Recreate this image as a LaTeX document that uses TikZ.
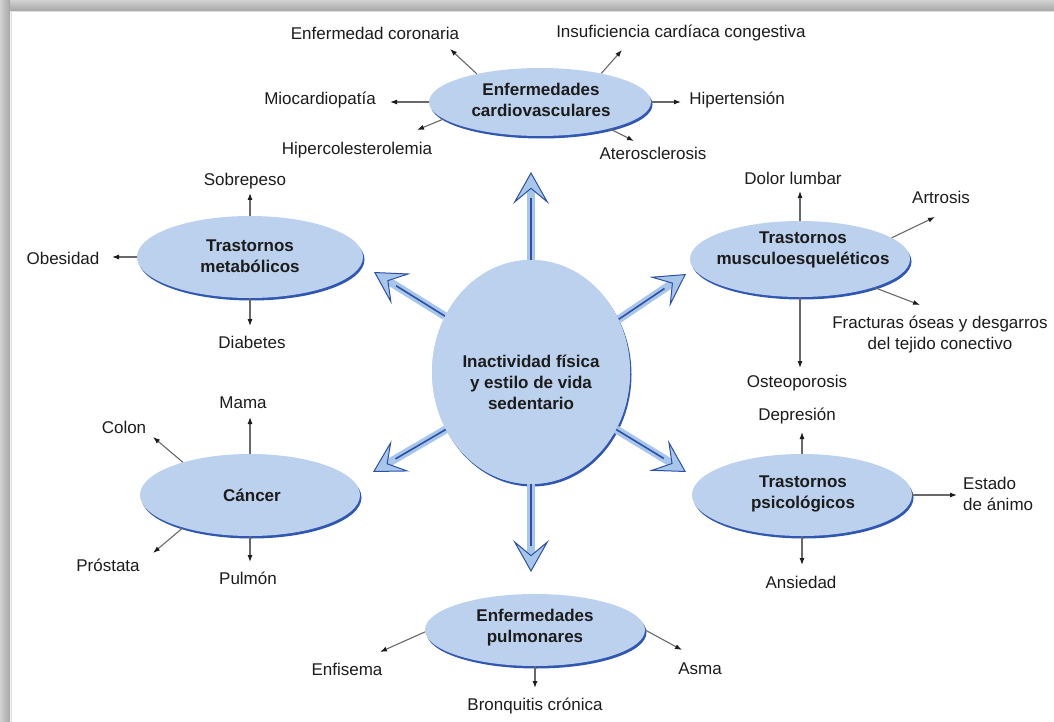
\documentclass[tikz,border=0pt]{standalone}
\usepackage{fontspec}
\setmainfont{Liberation Sans}
\usetikzlibrary{shapes.geometric,arrows.meta,shadows}
\definecolor{ellfill}{RGB}{188,209,237}
\definecolor{ellshadow}{RGB}{48,88,178}
\definecolor{arrlight}{RGB}{168,198,234}
\definecolor{arrdark}{RGB}{44,80,168}
\definecolor{txt}{RGB}{28,28,28}
\definecolor{smline}{RGB}{105,105,105}
\begin{document}
\begin{tikzpicture}[x=1pt,y=-1pt,
 lbl/.style={font=\fontsize{17}{21}\selectfont, text=txt, inner sep=0pt, align=center},
 cat/.style={ellipse, fill=ellfill, inner sep=0pt, drop shadow={shadow xshift=1.5pt, shadow yshift=-2.5pt, fill=ellshadow, opacity=1}},
 cattxt/.style={font=\fontsize{17}{21}\selectfont\bfseries, text=txt, inner sep=0pt, align=center},
 sm/.style={draw=smline, line width=1.1pt, -{Latex[length=7pt,width=5pt,color=txt]}},
 bigA/.style={line width=8pt, arrlight, -{Stealth[length=32pt,width=36pt,inset=15pt,line width=1pt,fill=arrlight,color=arrdark]}},
 bigL/.style={line width=1.6pt, arrdark, shorten >=26pt},
]
\useasboundingbox (0,0) rectangle (1054,722);
\fill[white] (0,0) rectangle (1054,722);
% frame
\shade[top color=gray!35, bottom color=gray!70] (0,0) rectangle (1054,11);
\shade[left color=gray!35, right color=gray!70] (0,0) rectangle (10,722);
\draw[gray!25, line width=1pt] (11,12) -- (1054,12);
\draw[gray!25, line width=1pt] (11,12) -- (11,722);

% central node
\node[ellipse, fill=ellfill, inner sep=0pt, minimum width=198pt, minimum height=224pt,
  drop shadow={shadow xshift=1.5pt, shadow yshift=-2.5pt, fill=ellshadow, opacity=1}] (ctr) at (531,372) {};
% big arrow tips
\coordinate (tU) at (531,172);
\coordinate (tD) at (531,572);
\coordinate (tUL) at (374,272);
\coordinate (tUR) at (686,274);
\coordinate (tLL) at (373,472);
\coordinate (tLR) at (686,472);
\foreach \a/\t in {90/tU,270/tD,147/tUL,31/tUR,214/tLL,326/tLR}{
  \draw[bigA] (ctr.\a) -- (\t);
  \draw[bigL] (ctr.\a) -- (\t);
}
\node[ellipse, fill=ellfill, inner sep=0pt, minimum width=198pt, minimum height=224pt] (ctrtop) at (ctr) {};
\node[cattxt] (ctrT) at (531,382) {Inactividad física\\y estilo de vida\\sedentario};

% category ellipses
\node[cat, minimum width=222pt, minimum height=68pt] (cv) at (540,102) {};
\node[cat, minimum width=226pt, minimum height=82pt] (met) at (250,257) {};
\node[cat, minimum width=220pt, minimum height=76pt] (mus) at (800,259) {};
\node[cat, minimum width=220pt, minimum height=82pt] (can) at (250,495) {};
\node[cat, minimum width=220pt, minimum height=82pt] (psi) at (802,495) {};
\node[cat, minimum width=220pt, minimum height=72pt] (pul) at (535,630) {};

\node[cattxt] (cvT) at (541,100) {Enfermedades\\cardiovasculares};
\node[cattxt] (metT) at (250,256) {Trastornos\\metabólicos};
\node[cattxt] (musT) at (803,250) {Trastornos\\musculoesqueléticos};
\node[cattxt] (canT) at (252,495) {Cáncer};
\node[cattxt] (psiT) at (803,494) {Trastornos\\psicológicos};
\node[cattxt] (pulT) at (535,628) {Enfermedades\\pulmonares};

% labels
\node[lbl] (cor) at (375,33) {Enfermedad coronaria};
\node[lbl] (ins) at (681,33) {Insuficiencia cardíaca congestiva};
\node[lbl] (mio) at (320,100) {Miocardiopatía};
\node[lbl] (hip) at (737,100) {Hipertensión};
\node[lbl] (hco) at (357,150) {Hipercolesterolemia};
\node[lbl] (ate) at (653,153) {Aterosclerosis};
\node[lbl] (sob) at (245,181) {Sobrepeso};
\node[lbl] (obe) at (63,258) {Obesidad};
\node[lbl] (dia) at (252,342) {Diabetes};
\node[lbl] (dol) at (793,178) {Dolor lumbar};
\node[lbl] (art) at (941,197) {Artrosis};
\node[lbl] (fra) at (940,335) {Fracturas óseas y desgarros\\del tejido conectivo};
\node[lbl] (ost) at (797,383) {Osteoporosis};
\node[lbl] (dep) at (797,416) {Depresión};
\node[lbl] (mam) at (243,403) {Mama};
\node[lbl] (col) at (124,427) {Colon};
\node[lbl] (pro) at (108,565) {Próstata};
\node[lbl] (pmn) at (248,578) {Pulmón};
\node[lbl, anchor=west, align=left] (est) at (963,494) {Estado\\de ánimo};
\node[lbl] (ans) at (801,582) {Ansiedad};
\node[lbl] (enf) at (347,669) {Enfisema};
\node[lbl] (asm) at (700,669) {Asma};
\node[lbl] (bro) at (535,706) {Bronquitis crónica};

% small arrow tips
\coordinate (aCor) at (450,49);
\coordinate (aIns) at (622,50);
\coordinate (aMio) at (390,102);
\coordinate (aHip) at (681,102);
\coordinate (aHco) at (417,130);
\coordinate (aAte) at (634,141);
\coordinate (aSob) at (250,193);
\coordinate (aObe) at (112,257);
\coordinate (aDia) at (250,326);
\coordinate (aDol) at (800,191);
\coordinate (aArt) at (935,217);
\coordinate (aFra) at (920,305);
\coordinate (aOst) at (800,368);
\coordinate (aDep) at (802,432);
\coordinate (aEst) at (957,495);
\coordinate (aAns) at (802,565);
\coordinate (aMam) at (250,417);
\coordinate (aCol) at (153,437);
\coordinate (aPro) at (153,553);
\coordinate (aPmn) at (250,562);
\coordinate (aEnf) at (380,652);
\coordinate (aAsm) at (682,650);
\coordinate (aBro) at (535,688);

\draw[sm] (cv.156) -- (aCor);
\draw[sm] (cv.25) -- (aIns);
\draw[sm] (cv.west) -- (aMio);
\draw[sm] (cv.east) -- (aHip);
\draw[sm] (cv.190) -- (aHco);
\draw[sm] (cv.339) -- (aAte);
\draw[sm] (met.north) -- (aSob);
\draw[sm] (met.west) -- (aObe);
\draw[sm] (met.south) -- (aDia);
\draw[sm] (mus.north) -- (aDol);
\draw[sm] (mus.13) -- (aArt);
\draw[sm] (mus.339) -- (aFra);
\draw[sm] (mus.south) -- (aOst);
\draw[sm] (psi.north) -- (aDep);
\draw[sm] (psi.east) -- (aEst);
\draw[sm] (psi.south) -- (aAns);
\draw[sm] (can.north) -- (aMam);
\draw[sm] (can.154) -- (aCol);
\draw[sm] (can.206) -- (aPro);
\draw[sm] (can.south) -- (aPmn);
\draw[sm] (pul.181) -- (aEnf);
\draw[sm] (pul.0) -- (aAsm);
\draw[sm] (pul.south) -- (aBro);
\end{tikzpicture}
\end{document}
